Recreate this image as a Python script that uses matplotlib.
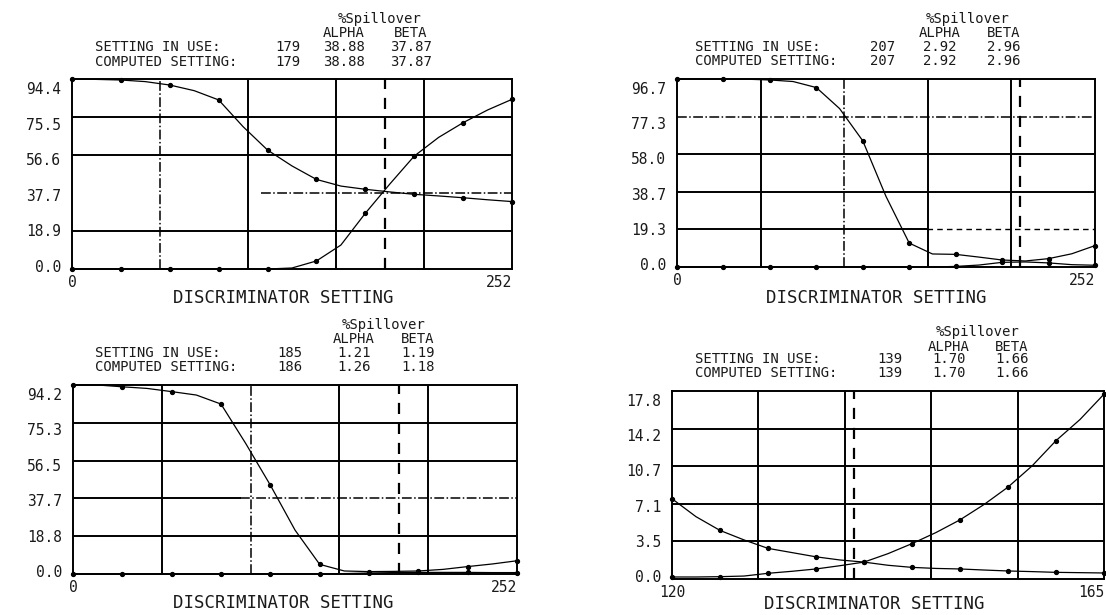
import matplotlib
matplotlib.use("Agg")
import matplotlib.pyplot as plt

# ---------------- data ----------------
# Panels 1-3: discriminator setting 0..252, curves read at 14-unit steps
x_disc = [0, 14, 28, 42, 56, 70, 84, 98, 112, 126, 140, 154, 168, 182, 196, 210, 224, 238, 252]

p1_alpha = [94.4, 94.2, 93.9, 93.1, 91.4, 88.6, 84.0, 70.7, 59.1, 51.2, 44.5, 41.2, 39.6, 38.3, 37.1, 36.3, 35.4, 34.4, 33.5]
p1_beta = [0, 0, 0, 0, 0, 0, 0, 0, 0, 0.5, 4.0, 11.9, 27.7, 42.2, 56.1, 65.4, 72.7, 79.0, 84.3]

p2_alpha = [96.7, 96.7, 96.7, 96.6, 96.2, 95.4, 92.3, 81.5, 64.9, 36.3, 12.3, 6.7, 6.5, 5.1, 3.6, 3.1, 4.3, 6.8, 11.0]
p2_beta = [0, 0, 0, 0, 0, 0, 0, 0, 0, 0, 0, 0, 0.3, 1.0, 2.4, 2.6, 2.1, 1.2, 0.9]

p3_alpha = [94.2, 94.2, 93.3, 92.5, 90.9, 89.2, 84.7, 65.1, 44.3, 21.9, 4.8, 1.5, 1.2, 1.3, 1.5, 2.3, 3.7, 5.0, 6.6]
p3_beta = [0, 0, 0, 0, 0, 0, 0, 0, 0, 0, 0, 0.2, 0.5, 0.7, 0.8, 0.8, 0.8, 0.7, 0.7]

# Panel 4: zoomed setting range 120..165, read at 2.5-unit steps
x_zoom = [120, 122.5, 125, 127.5, 130, 132.5, 135, 137.5, 140, 142.5, 145, 147.5, 150, 152.5, 155, 157.5, 160, 162.5, 165]
p4_alpha = [7.6, 5.9, 4.6, 3.7, 2.9, 2.5, 2.1, 1.8, 1.6, 1.3, 1.1, 1.0, 0.95, 0.85, 0.76, 0.7, 0.63, 0.6, 0.57]
p4_beta = [0.19, 0.19, 0.22, 0.28, 0.54, 0.73, 0.95, 1.26, 1.6, 2.4, 3.35, 4.4, 5.6, 7.05, 8.7, 10.7, 13.1, 15.1, 17.5]

# axis ranges and tick labels
x_ranges = [(0, 252), (0, 252), (0, 252), (120, 165)]
x_tick_labels = [["0", "252"], ["0", "252"], ["0", "252"], ["120", "165"]]
y_max = [94.4, 96.7, 94.2, 17.8]
y_tick_labels = [
    ["0.0", "18.9", "37.7", "56.6", "75.5", "94.4"],
    ["0.0", "19.3", "38.7", "58.0", "77.3", "96.7"],
    ["0.0", "18.8", "37.7", "56.5", "75.3", "94.2"],
    ["0.0", "3.5", "7.1", "10.7", "14.2", "17.8"],
]

# header values
setting_in_use = ["179", "207", "185", "139"]
computed_setting = ["179", "207", "186", "139"]
in_use_alpha = ["38.88", "2.92", "1.21", "1.70"]
in_use_beta = ["37.87", "2.96", "1.19", "1.66"]
computed_alpha = ["38.88", "2.92", "1.26", "1.70"]
computed_beta = ["37.87", "2.96", "1.18", "1.66"]
setting_line = [179, 207, 185, 139]

# ---------------- layout (pixels) ----------------
W, H = 1106, 615
fig = plt.figure(figsize=(W / 100, H / 100), dpi=100)
fig.patch.set_facecolor("white")

def fx(px):
    return px / W

def fy(py):
    return 1 - py / H

# left, right, top, bottom in pixels
frames = [(72, 512, 79, 269), (677, 1095, 79, 267), (73, 517, 385, 574), (672, 1104, 391, 579)]
# header: label-left, setting-right, alpha-center, beta-center, spill-center, rows y
headers = [
    (95, 300, 344, 411, 380, (19, 33, 47, 62)),
    (695, 895, 940, 1004, 968, (19, 33, 47, 61)),
    (95, 302, 354, 418, 384, (325, 339, 353, 367)),
    (695, 902, 949, 1012, 978, (332, 347, 359, 373)),
]
xlabel_pos = [(0.48, -0.153), (0.476, -0.165), (0.473, -0.153), (0.468, -0.132)]

# grid line styles per panel (4 vertical grid lines)
vgrid_styles = [
    ["-.", "-", "-", "-"],
    ["-", "-.", "-", "-"],
    ["-", "-.", "-", "-"],
    ["-", "-", "-", "-"],
]

series = [
    (x_disc, p1_alpha, p1_beta),
    (x_disc, p2_alpha, p2_beta),
    (x_disc, p3_alpha, p3_beta),
    (x_zoom, p4_alpha, p4_beta),
]

MONO = "DejaVu Sans Mono"
TXT = "#1a1a1a"
for i in range(4):
    l, r, t, b = frames[i]
    ax = fig.add_axes([fx(l), fy(b), (r - l) / W, (b - t) / H])
    x0, x1 = x_ranges[i]
    ym = y_max[i]
    ax.set_xlim(x0, x1)
    ax.set_ylim(0, ym)
    for s in ax.spines.values():
        s.set_linewidth(1.4)
        s.set_color("black")

    # grid
    xs = [x0 + (x1 - x0) * k / 5 for k in range(1, 5)]
    for xv, ls in zip(xs, vgrid_styles[i]):
        ax.axvline(xv, color="black", lw=1.4 if ls == "-" else 1.1, ls=ls, zorder=1)
    ys = [ym * k / 5 for k in range(1, 5)]
    for k, yv in enumerate(ys):
        if i == 0 and k == 1:
            ax.plot([108, 252], [yv, yv], color="black", lw=1.1, ls="-.", zorder=1)
        elif i == 1 and k == 3:
            ax.axhline(yv, color="black", lw=1.1, ls="-.", zorder=1)
        elif i == 1 and k == 0:
            ax.plot([0, 151], [yv, yv], color="black", lw=1.4, zorder=1)
            ax.plot([151, 252], [yv, yv], color="black", lw=1.0, ls=(0, (4, 3)), zorder=1)
        elif i == 2 and k == 1:
            ax.plot([0, 95], [yv, yv], color="black", lw=1.4, zorder=1)
            ax.plot([95, 252], [yv, yv], color="black", lw=1.1, ls="-.", zorder=1)
        else:
            ax.axhline(yv, color="black", lw=1.4, zorder=1)

    # setting-in-use dashed line
    ax.axvline(setting_line[i], color="black", lw=1.6, ls=(0, (5, 4)), zorder=2)

    # curves
    xv, a, bta = series[i]
    for yv in (a, bta):
        ax.plot(xv, yv, color="black", lw=0.9, marker="o", ms=2.8,
                markevery=2, zorder=3, clip_on=False)

    # ticks
    ax.set_xticks([x0, x1], x_tick_labels[i])
    lbls = ax.get_xticklabels()
    lbls[0].set_ha("center")
    lbls[1].set_ha("right")
    pos = [ym * 0.016 + (ym * k / 5) * 0.937 for k in range(6)]
    ax.set_yticks(pos, y_tick_labels[i])
    ax.tick_params(axis="both", length=0, labelsize=10.5, colors=TXT)
    ax.tick_params(axis="y", pad=8)
    ax.tick_params(axis="x", pad=4)
    for lab in ax.get_xticklabels() + ax.get_yticklabels():
        lab.set_family(MONO)

    ax.set_xlabel("DISCRIMINATOR SETTING", family=MONO, fontsize=12.5, color=TXT)
    ax.xaxis.set_label_coords(*xlabel_pos[i])
    ax.xaxis.label.set_va("center")

    # header
    hl, hs, ha_, hb, hsp, rows = headers[i]
    fs = 10
    fig.text(fx(hsp), fy(rows[0]), "%Spillover", ha="center", va="center", family=MONO, fontsize=fs, color=TXT)
    fig.text(fx(ha_), fy(rows[1]), "ALPHA", ha="center", va="center", family=MONO, fontsize=fs, color=TXT)
    fig.text(fx(hb), fy(rows[1]), "BETA", ha="center", va="center", family=MONO, fontsize=fs, color=TXT)
    fig.text(fx(hl), fy(rows[2]), "SETTING IN USE:", ha="left", va="center", family=MONO, fontsize=fs, color=TXT)
    fig.text(fx(hs), fy(rows[2]), setting_in_use[i], ha="right", va="center", family=MONO, fontsize=fs, color=TXT)
    fig.text(fx(ha_), fy(rows[2]), in_use_alpha[i], ha="center", va="center", family=MONO, fontsize=fs, color=TXT)
    fig.text(fx(hb), fy(rows[2]), in_use_beta[i], ha="center", va="center", family=MONO, fontsize=fs, color=TXT)
    fig.text(fx(hl), fy(rows[3]), "COMPUTED SETTING:", ha="left", va="center", family=MONO, fontsize=fs, color=TXT)
    fig.text(fx(hs), fy(rows[3]), computed_setting[i], ha="right", va="center", family=MONO, fontsize=fs, color=TXT)
    fig.text(fx(ha_), fy(rows[3]), computed_alpha[i], ha="center", va="center", family=MONO, fontsize=fs, color=TXT)
    fig.text(fx(hb), fy(rows[3]), computed_beta[i], ha="center", va="center", family=MONO, fontsize=fs, color=TXT)

fig.savefig("out.png", dpi=100, facecolor="white")
